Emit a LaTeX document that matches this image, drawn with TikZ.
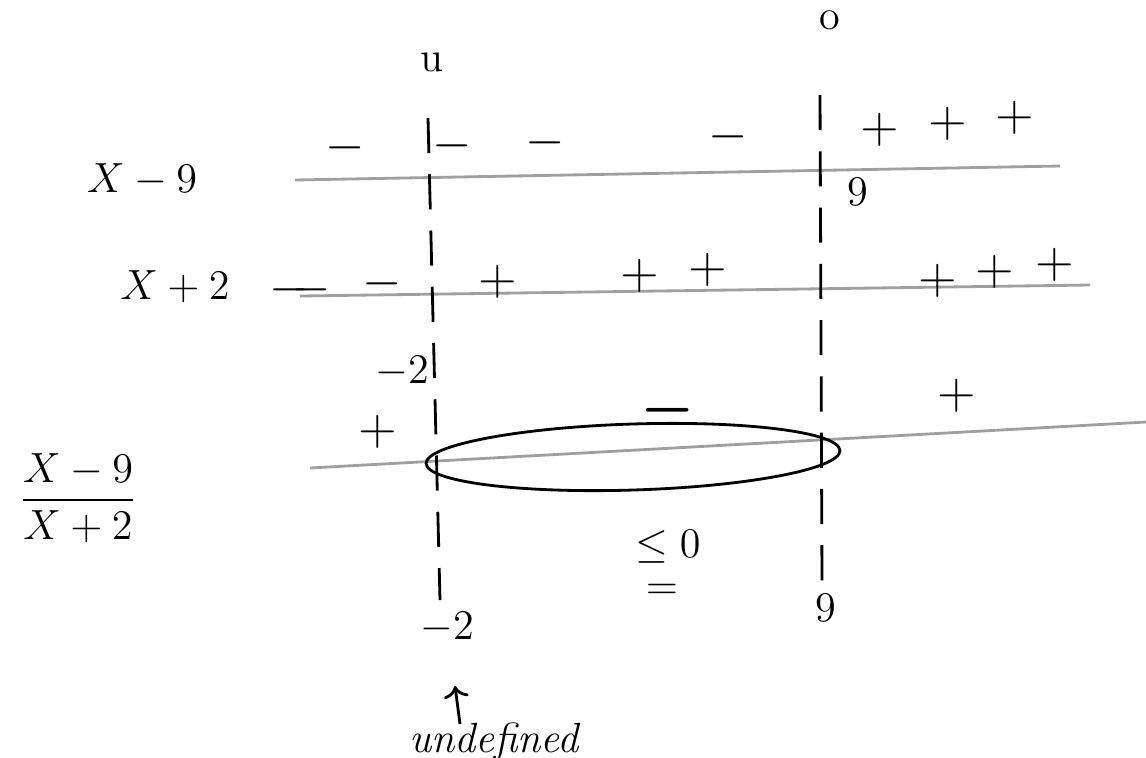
\documentclass[tikz,border=0pt]{standalone}
\usepackage{amsmath,amssymb}
\usetikzlibrary{arrows.meta}

\tikzset{
  reta/.style={gray!75, thick},
  divisa/.style={thick, dash pattern=on 10pt off 6pt},
  sinal/.style={font=\Large},
  rotulo/.style={font=\large}
}

\begin{document}
\begin{tikzpicture}[x=0.01cm, y=-0.01cm]
        \useasboundingbox (0,0) rectangle (1146,757);

        % Fatores
        \node[rotulo] (fa) at (142,180) {$X-9$};
        \node[rotulo] (fb) at (175,287) {$X+2$};
        \node[rotulo] (fc) at (78,498) {$\dfrac{X-9}{X+2}$};

        % Retas
        \coordinate (a1) at (295,180); \coordinate (a2) at (1060,166);
        \coordinate (b1) at (300,296); \coordinate (b2) at (1090,285);
        \coordinate (c1) at (310,468); \coordinate (c2) at (1146,422);
        \draw[reta] (a1) -- (a2);
        \draw[reta] (b1) -- (b2);
        \draw[reta] (c1) -- (c2);

        % Divisas em -2 e 9
        \coordinate (l1) at (428,118); \coordinate (l2) at (440,600);
        \coordinate (r1) at (820,95);  \coordinate (r2) at (822,582);
        \draw[divisa] (l1) -- (l2);
        \draw[divisa] (r1) -- (r2);

        % Sinais de x-9
        \foreach \x/\y in {345/148, 452/146, 545/143, 728/137}
            \node[sinal] at (\x,\y) {$-$};
        \foreach \x/\y in {880/130, 948/124, 1015/118}
            \node[sinal] at (\x,\y) {$+$};

        % Sinais de x+2
        \node[sinal] (m0) at (300,290) {$-\!\!-$};
        \node[sinal] (m1) at (382,284) {$-$};
        \foreach \x/\y in {498/282, 640/276, 708/270, 938/281, 995/272, 1055/265}
            \node[sinal] at (\x,\y) {$+$};

        % Sinais do quociente
        \node[sinal] (p1) at (378,432) {$+$};
        \node[font=\LARGE] (m2) at (668,410) {$\boldsymbol{-}$};
        \node[sinal] (p2) at (957,396) {$+$};
        \draw[thick] (633,457) ellipse [x radius=207, y radius=33, rotate=1.8];

        % Valores
        \node[rotulo, inner sep=1pt] (zero) at (830,20) {o};
        \node[rotulo] (topo) at (432,62) {u};
        \node[rotulo] (nove) at (858,192) {9};
        \node[rotulo] (menos) at (402,372) {$-2$};
        \node[rotulo] (leq) at (668,547) {$\le 0$};
        \node[rotulo] (iguala) at (662,592) {$=$};
        \node[rotulo] (noveb) at (826,608) {9};
        \node[rotulo] (menosb) at (447,628) {$-2$};

        % Indefinido
        \node[rotulo, font=\large\itshape] (indef) at (494,742) {undefined};
        \coordinate (seta) at (460,724);
        \draw[->, thick] (seta) -- (455,686);

    \end{tikzpicture}
\end{document}
